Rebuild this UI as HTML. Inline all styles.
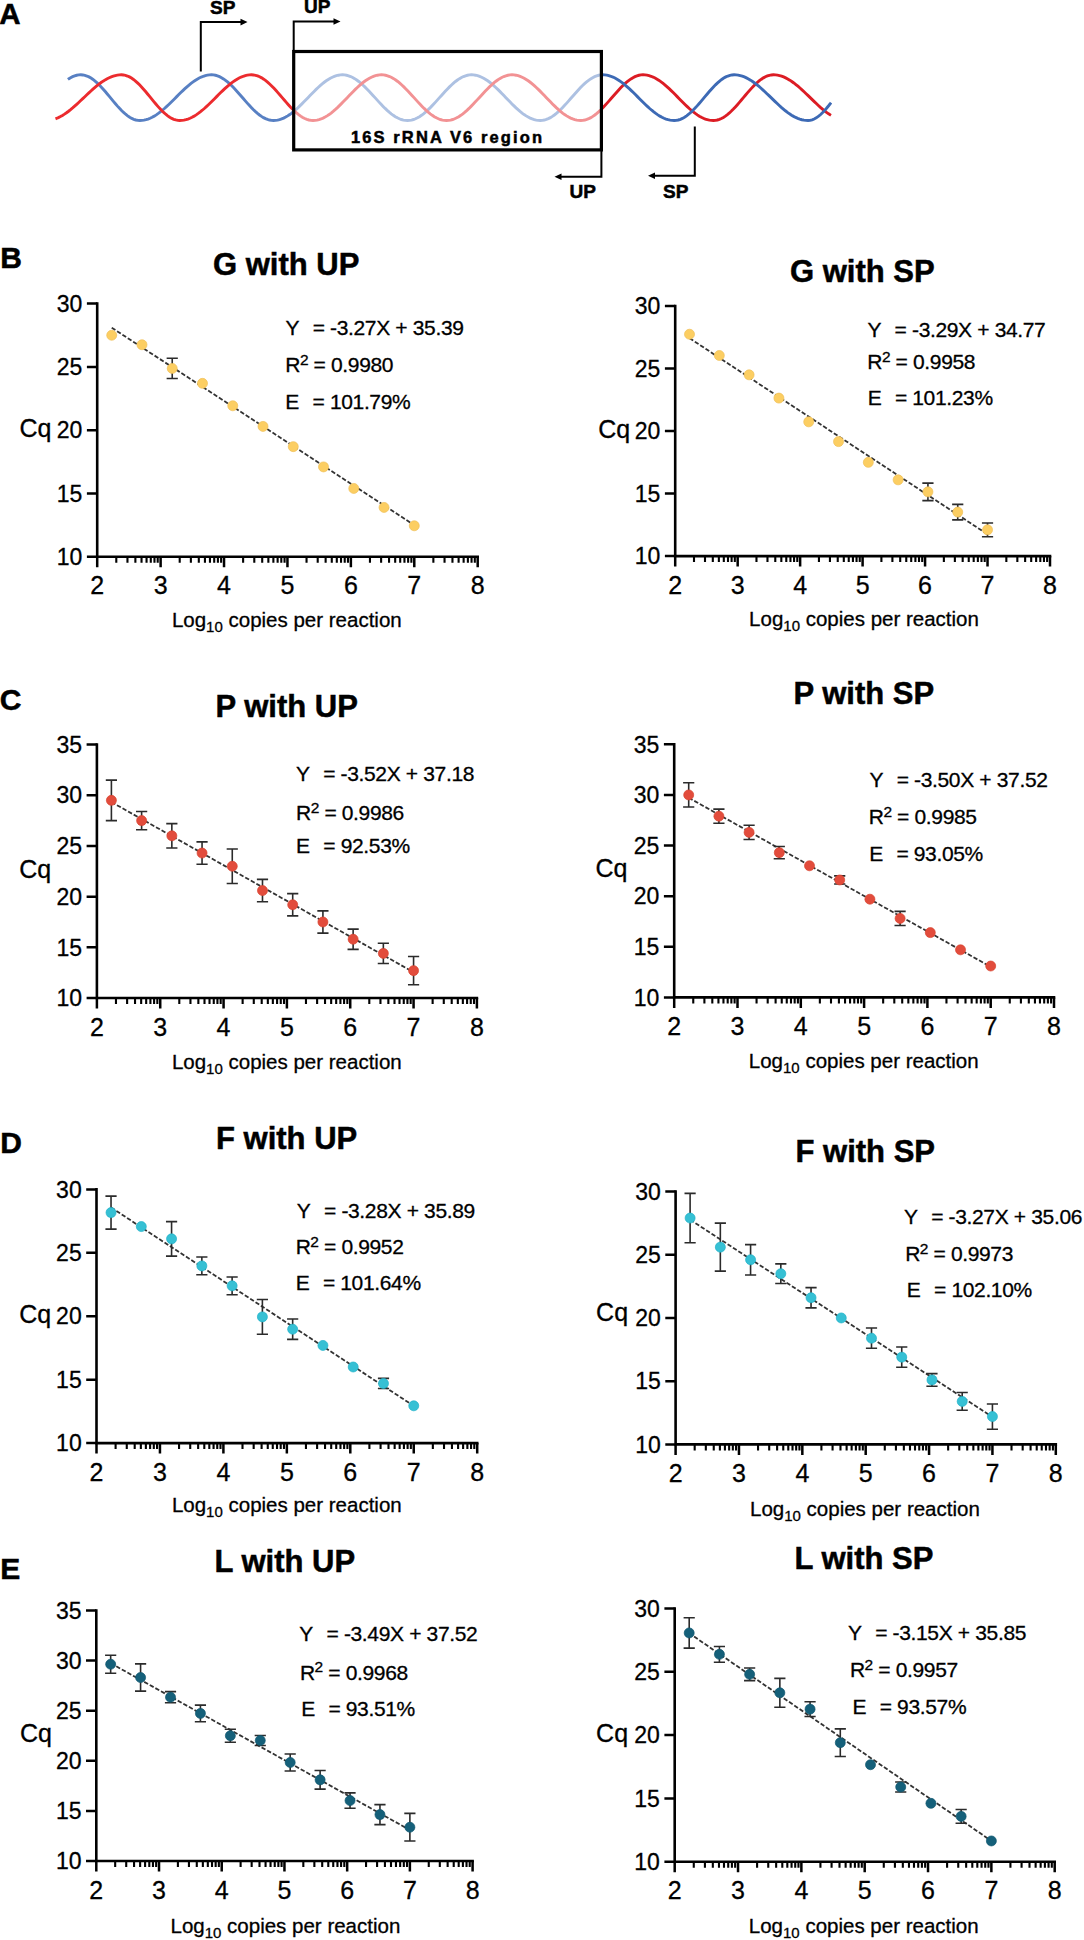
<!DOCTYPE html>
<html><head><meta charset="utf-8"><title>qPCR standard curves</title>
<style>html,body{margin:0;padding:0;background:#fff;}svg{display:block;}text{stroke:#000;stroke-width:0.3px;}text[font-weight=bold]{stroke-width:0.5px;}</style></head>
<body><svg width="1084" height="1940" viewBox="0 0 1084 1940" font-family="'Liberation Sans', sans-serif" fill="#000">
<rect width="1084" height="1940" fill="#fff"/>
<text x="-0.8" y="23.8" font-size="29.5" font-weight="bold">A</text>
<path d="M293.70,111.50 L293.79,111.42 L295.82,109.68 L297.85,107.84 L299.88,105.90 L301.91,103.90 L303.94,101.85 L305.97,99.76 L308.00,97.65 L310.03,95.54 L312.06,93.45 L314.09,91.40 L316.12,89.40 L318.15,87.46 L320.18,85.62 L322.21,83.88 L324.24,82.26 L326.26,80.76 L328.29,79.42 L330.32,78.22 L332.35,77.20 L334.38,76.34 L336.41,75.67 L338.44,75.19 L340.47,74.90 L342.50,74.80 L344.53,74.91 L346.56,75.24 L348.59,75.78 L350.62,76.54 L352.66,77.50 L354.69,78.65 L356.72,79.99 L358.75,81.49 L360.78,83.15 L362.81,84.96 L364.84,86.88 L366.88,88.91 L368.91,91.02 L370.94,93.19 L372.97,95.41 L375.00,97.65 L377.03,99.89 L379.06,102.11 L381.09,104.28 L383.12,106.39 L385.16,108.42 L387.19,110.34 L389.22,112.15 L391.25,113.81 L393.28,115.31 L395.31,116.65 L397.34,117.80 L399.38,118.76 L401.41,119.52 L403.44,120.06 L405.47,120.39 L407.50,120.50 L409.50,120.39 L411.50,120.06 L413.50,119.52 L415.50,118.76 L417.50,117.80 L419.50,116.65 L421.50,115.31 L423.50,113.81 L425.50,112.15 L427.50,110.34 L429.50,108.42 L431.50,106.39 L433.50,104.28 L435.50,102.11 L437.50,99.89 L439.50,97.65 L441.50,95.41 L443.50,93.19 L445.50,91.02 L447.50,88.91 L449.50,86.88 L451.50,84.96 L453.50,83.15 L455.50,81.49 L457.50,79.99 L459.50,78.65 L461.50,77.50 L463.50,76.54 L465.50,75.78 L467.50,75.24 L469.50,74.91 L471.50,74.80 L473.52,74.90 L475.55,75.19 L477.57,75.67 L479.59,76.34 L481.62,77.20 L483.64,78.22 L485.66,79.42 L487.69,80.76 L489.71,82.26 L491.74,83.88 L493.76,85.62 L495.78,87.46 L497.81,89.40 L499.83,91.40 L501.85,93.45 L503.88,95.54 L505.90,97.65 L507.92,99.76 L509.95,101.85 L511.97,103.90 L513.99,105.90 L516.02,107.84 L518.04,109.68 L520.06,111.42 L522.09,113.04 L524.11,114.54 L526.14,115.88 L528.16,117.08 L530.18,118.10 L532.21,118.96 L534.23,119.63 L536.25,120.11 L538.28,120.40 L540.30,120.50 L542.31,120.38 L544.33,120.03 L546.34,119.45 L548.35,118.65 L550.36,117.63 L552.38,116.40 L554.39,114.99 L556.40,113.39 L558.42,111.64 L560.43,109.74 L562.44,107.71 L564.45,105.59 L566.47,103.38 L568.48,101.11 L570.49,98.81 L572.51,96.49 L574.52,94.19 L576.53,91.92 L578.55,89.71 L580.56,87.59 L582.57,85.56 L584.58,83.66 L586.60,81.91 L588.61,80.31 L590.62,78.90 L592.64,77.67 L594.65,76.65 L596.66,75.85 L598.67,75.27 L600.69,74.92 L601.40,74.88" fill="none" stroke="#ADC1E2" stroke-width="2.9"/>
<path d="M293.70,110.28 L294.52,111.08 L296.57,112.94 L298.63,114.63 L300.68,116.14 L302.73,117.44 L304.79,118.52 L306.84,119.38 L308.89,120.00 L310.95,120.37 L313.00,120.50 L315.01,120.40 L317.03,120.11 L319.04,119.63 L321.06,118.96 L323.07,118.10 L325.09,117.08 L327.10,115.88 L329.12,114.54 L331.13,113.04 L333.15,111.42 L335.16,109.68 L337.18,107.84 L339.19,105.90 L341.21,103.90 L343.22,101.85 L345.24,99.76 L347.25,97.65 L349.26,95.54 L351.28,93.45 L353.29,91.40 L355.31,89.40 L357.32,87.46 L359.34,85.62 L361.35,83.88 L363.37,82.26 L365.38,80.76 L367.40,79.42 L369.41,78.22 L371.43,77.20 L373.44,76.34 L375.46,75.67 L377.47,75.19 L379.49,74.90 L381.50,74.80 L383.53,74.91 L385.56,75.24 L387.59,75.78 L389.62,76.54 L391.66,77.50 L393.69,78.65 L395.72,79.99 L397.75,81.49 L399.78,83.15 L401.81,84.96 L403.84,86.88 L405.88,88.91 L407.91,91.02 L409.94,93.19 L411.97,95.41 L414.00,97.65 L416.03,99.89 L418.06,102.11 L420.09,104.28 L422.12,106.39 L424.16,108.42 L426.19,110.34 L428.22,112.15 L430.25,113.81 L432.28,115.31 L434.31,116.65 L436.34,117.80 L438.38,118.76 L440.41,119.52 L442.44,120.06 L444.47,120.39 L446.50,120.50 L448.55,120.39 L450.59,120.06 L452.64,119.52 L454.69,118.76 L456.73,117.80 L458.78,116.65 L460.83,115.31 L462.88,113.81 L464.92,112.15 L466.97,110.34 L469.02,108.42 L471.06,106.39 L473.11,104.28 L475.16,102.11 L477.20,99.89 L479.25,97.65 L481.30,95.41 L483.34,93.19 L485.39,91.02 L487.44,88.91 L489.48,86.88 L491.53,84.96 L493.58,83.15 L495.62,81.49 L497.67,79.99 L499.72,78.65 L501.77,77.50 L503.81,76.54 L505.86,75.78 L507.91,75.24 L509.95,74.91 L512.00,74.80 L514.02,74.90 L516.05,75.19 L518.07,75.67 L520.09,76.34 L522.12,77.20 L524.14,78.22 L526.16,79.42 L528.19,80.76 L530.21,82.26 L532.24,83.88 L534.26,85.62 L536.28,87.46 L538.31,89.40 L540.33,91.40 L542.35,93.45 L544.38,95.54 L546.40,97.65 L548.42,99.76 L550.45,101.85 L552.47,103.90 L554.49,105.90 L556.52,107.84 L558.54,109.68 L560.56,111.42 L562.59,113.04 L564.61,114.54 L566.64,115.88 L568.66,117.08 L570.68,118.10 L572.71,118.96 L574.73,119.63 L576.75,120.11 L578.78,120.40 L580.80,120.50 L582.81,120.38 L584.81,120.03 L586.82,119.45 L588.83,118.65 L590.83,117.63 L592.84,116.40 L594.85,114.99 L596.85,113.39 L598.86,111.64 L600.86,109.74 L601.40,109.20" fill="none" stroke="#F29294" stroke-width="2.9"/>
<path d="M67.90,79.32 L68.51,78.90 L70.56,77.67 L72.61,76.65 L74.65,75.85 L76.70,75.27 L78.75,74.92 L80.80,74.80 L82.84,74.93 L84.88,75.33 L86.91,76.00 L88.95,76.91 L90.99,78.07 L93.03,79.46 L95.07,81.06 L97.10,82.86 L99.14,84.83 L101.18,86.95 L103.22,89.19 L105.26,91.54 L107.29,93.95 L109.33,96.41 L111.37,98.89 L113.41,101.35 L115.44,103.76 L117.48,106.11 L119.52,108.35 L121.56,110.47 L123.60,112.44 L125.63,114.24 L127.67,115.84 L129.71,117.23 L131.75,118.39 L133.79,119.30 L135.82,119.97 L137.86,120.37 L139.90,120.50 L141.95,120.41 L143.99,120.13 L146.04,119.68 L148.08,119.04 L150.13,118.24 L152.17,117.27 L154.22,116.14 L156.27,114.86 L158.31,113.44 L160.36,111.90 L162.40,110.24 L164.45,108.48 L166.49,106.63 L168.54,104.71 L170.59,102.73 L172.63,100.72 L174.68,98.68 L176.72,96.62 L178.77,94.58 L180.81,92.57 L182.86,90.59 L184.91,88.67 L186.95,86.82 L189.00,85.06 L191.04,83.40 L193.09,81.86 L195.13,80.44 L197.18,79.16 L199.23,78.03 L201.27,77.06 L203.32,76.26 L205.36,75.62 L207.41,75.17 L209.45,74.89 L211.50,74.80 L213.50,74.92 L215.50,75.27 L217.50,75.85 L219.50,76.65 L221.50,77.67 L223.50,78.90 L225.50,80.31 L227.50,81.91 L229.50,83.66 L231.50,85.56 L233.50,87.59 L235.50,89.71 L237.50,91.92 L239.50,94.19 L241.50,96.49 L243.50,98.81 L245.50,101.11 L247.50,103.38 L249.50,105.59 L251.50,107.71 L253.50,109.74 L255.50,111.64 L257.50,113.39 L259.50,114.99 L261.50,116.40 L263.50,117.63 L265.50,118.65 L267.50,119.45 L269.50,120.03 L271.50,120.38 L273.50,120.50 L275.53,120.40 L277.56,120.11 L279.59,119.63 L281.62,118.96 L283.65,118.10 L285.68,117.08 L287.71,115.88 L289.74,114.54 L291.76,113.04 L293.70,111.50" fill="none" stroke="#5880C3" stroke-width="2.9"/>
<path d="M55.50,118.78 L56.36,118.47 L58.39,117.60 L60.43,116.58 L62.46,115.43 L64.49,114.15 L66.52,112.75 L68.56,111.24 L70.59,109.63 L72.62,107.94 L74.65,106.17 L76.69,104.34 L78.72,102.46 L80.75,100.55 L82.78,98.62 L84.82,96.68 L86.85,94.75 L88.88,92.84 L90.91,90.96 L92.95,89.13 L94.98,87.36 L97.01,85.67 L99.04,84.06 L101.08,82.55 L103.11,81.15 L105.14,79.87 L107.17,78.72 L109.21,77.70 L111.24,76.83 L113.27,76.11 L115.30,75.54 L117.34,75.13 L119.37,74.88 L121.40,74.80 L123.41,74.93 L125.43,75.33 L127.44,76.00 L129.46,76.91 L131.47,78.07 L133.48,79.46 L135.50,81.06 L137.51,82.86 L139.52,84.83 L141.54,86.95 L143.55,89.19 L145.57,91.54 L147.58,93.95 L149.59,96.41 L151.61,98.89 L153.62,101.35 L155.63,103.76 L157.65,106.11 L159.66,108.35 L161.68,110.47 L163.69,112.44 L165.70,114.24 L167.72,115.84 L169.73,117.23 L171.74,118.39 L173.76,119.30 L175.77,119.97 L177.79,120.37 L179.80,120.50 L181.85,120.41 L183.89,120.13 L185.94,119.68 L187.98,119.04 L190.03,118.24 L192.07,117.27 L194.12,116.14 L196.17,114.86 L198.21,113.44 L200.26,111.90 L202.30,110.24 L204.35,108.48 L206.39,106.63 L208.44,104.71 L210.49,102.73 L212.53,100.72 L214.58,98.68 L216.62,96.62 L218.67,94.58 L220.71,92.57 L222.76,90.59 L224.81,88.67 L226.85,86.82 L228.90,85.06 L230.94,83.40 L232.99,81.86 L235.03,80.44 L237.08,79.16 L239.13,78.03 L241.17,77.06 L243.22,76.26 L245.26,75.62 L247.31,75.17 L249.35,74.89 L251.40,74.80 L253.45,74.93 L255.51,75.30 L257.56,75.92 L259.61,76.78 L261.67,77.86 L263.72,79.16 L265.77,80.67 L267.83,82.36 L269.88,84.22 L271.93,86.22 L273.99,88.36 L276.04,90.59 L278.09,92.90 L280.15,95.26 L282.20,97.65 L284.25,100.04 L286.31,102.40 L288.36,104.71 L290.41,106.94 L292.47,109.07 L293.70,110.28" fill="none" stroke="#EC2B2E" stroke-width="2.9"/>
<path d="M601.40,109.20 L602.87,107.71 L604.88,105.59 L606.88,103.38 L608.89,101.11 L610.90,98.81 L612.90,96.49 L614.91,94.19 L616.92,91.92 L618.92,89.71 L620.93,87.59 L622.94,85.56 L624.94,83.66 L626.95,81.91 L628.95,80.31 L630.96,78.90 L632.97,77.67 L634.97,76.65 L636.98,75.85 L638.99,75.27 L640.99,74.92 L643.00,74.80 L645.01,74.89 L647.02,75.17 L649.03,75.62 L651.05,76.26 L653.06,77.06 L655.07,78.03 L657.08,79.16 L659.09,80.44 L661.10,81.86 L663.11,83.40 L665.13,85.06 L667.14,86.82 L669.15,88.67 L671.16,90.59 L673.17,92.57 L675.18,94.58 L677.19,96.62 L679.21,98.68 L681.22,100.72 L683.23,102.73 L685.24,104.71 L687.25,106.63 L689.26,108.48 L691.27,110.24 L693.29,111.90 L695.30,113.44 L697.31,114.86 L699.32,116.14 L701.33,117.27 L703.34,118.24 L705.35,119.04 L707.37,119.68 L709.38,120.13 L711.39,120.41 L713.40,120.50 L715.40,120.37 L717.40,120.00 L719.40,119.38 L721.40,118.52 L723.40,117.44 L725.40,116.14 L727.40,114.63 L729.40,112.94 L731.40,111.08 L733.40,109.08 L735.40,106.94 L737.40,104.71 L739.40,102.40 L741.40,100.04 L743.40,97.65 L745.40,95.26 L747.40,92.90 L749.40,90.59 L751.40,88.36 L753.40,86.22 L755.40,84.22 L757.40,82.36 L759.40,80.67 L761.40,79.16 L763.40,77.86 L765.40,76.78 L767.40,75.92 L769.40,75.30 L771.40,74.93 L773.40,74.80 L775.44,74.89 L777.49,75.15 L779.53,75.58 L781.58,76.18 L783.62,76.94 L785.67,77.86 L787.71,78.93 L789.76,80.15 L791.80,81.49 L793.84,82.96 L795.89,84.54 L797.93,86.22 L799.98,87.99 L802.02,89.83 L804.07,91.74 L806.11,93.68 L808.16,95.66 L810.20,97.65 L812.24,99.64 L814.29,101.62 L816.33,103.56 L818.38,105.47 L820.42,107.31 L822.47,109.07 L824.51,110.76 L826.56,112.34 L828.60,113.81 L830.64,115.15 L831.00,115.37" fill="none" stroke="#DC1C24" stroke-width="2.9"/>
<path d="M601.40,74.88 L602.70,74.80 L604.74,74.89 L606.79,75.17 L608.83,75.62 L610.87,76.26 L612.91,77.06 L614.96,78.03 L617.00,79.16 L619.04,80.44 L621.09,81.86 L623.13,83.40 L625.17,85.06 L627.21,86.82 L629.26,88.67 L631.30,90.59 L633.34,92.57 L635.39,94.58 L637.43,96.62 L639.47,98.68 L641.51,100.72 L643.56,102.73 L645.60,104.71 L647.64,106.63 L649.69,108.48 L651.73,110.24 L653.77,111.90 L655.81,113.44 L657.86,114.86 L659.90,116.14 L661.94,117.27 L663.99,118.24 L666.03,119.04 L668.07,119.68 L670.11,120.13 L672.16,120.41 L674.20,120.50 L676.27,120.37 L678.33,119.97 L680.40,119.30 L682.46,118.39 L684.53,117.23 L686.59,115.84 L688.66,114.24 L690.72,112.44 L692.79,110.47 L694.86,108.35 L696.92,106.11 L698.99,103.76 L701.05,101.35 L703.12,98.89 L705.18,96.41 L707.25,93.95 L709.31,91.54 L711.38,89.19 L713.44,86.95 L715.51,84.83 L717.58,82.86 L719.64,81.06 L721.71,79.46 L723.77,78.07 L725.84,76.91 L727.90,76.00 L729.97,75.33 L732.03,74.93 L734.10,74.80 L736.15,74.89 L738.21,75.15 L740.26,75.58 L742.31,76.18 L744.36,76.94 L746.42,77.86 L748.47,78.93 L750.52,80.15 L752.58,81.49 L754.63,82.96 L756.68,84.54 L758.73,86.22 L760.79,87.99 L762.84,89.83 L764.89,91.74 L766.94,93.68 L769.00,95.66 L771.05,97.65 L773.10,99.64 L775.16,101.62 L777.21,103.56 L779.26,105.47 L781.31,107.31 L783.37,109.07 L785.42,110.76 L787.47,112.34 L789.52,113.81 L791.58,115.15 L793.63,116.37 L795.68,117.44 L797.74,118.36 L799.79,119.12 L801.84,119.72 L803.89,120.15 L805.95,120.41 L808.00,120.50 L810.06,120.33 L812.12,119.84 L814.18,119.02 L816.25,117.88 L818.31,116.46 L820.37,114.75 L822.43,112.80 L824.49,110.63 L826.55,108.27 L828.62,105.75 L830.68,103.12 L831.00,102.69" fill="none" stroke="#3D6AB5" stroke-width="2.9"/>
<rect x="293.7" y="51.5" width="307.7" height="98.4" fill="none" stroke="#000" stroke-width="3.2"/>
<text x="351" y="143.3" font-size="16.5" font-weight="bold" letter-spacing="2.1">16S rRNA V6 region</text>
<polyline points="200.8,71.4 200.8,22.1 242,22.1" fill="none" stroke="#000" stroke-width="2"/><polygon points="247.5,22.1 240.5,18.8 240.5,25.400000000000002" fill="#000"/>
<polyline points="293.7,51 293.7,21.5 335,21.5" fill="none" stroke="#000" stroke-width="2"/><polygon points="340.5,21.5 333.5,18.2 333.5,24.8" fill="#000"/>
<polyline points="601.4,150 601.4,176.8 560,176.8" fill="none" stroke="#000" stroke-width="2"/><polygon points="554.5,176.8 561.5,173.5 561.5,180.10000000000002" fill="#000"/>
<polyline points="694.8,126.6 694.8,175.8 654,175.8" fill="none" stroke="#000" stroke-width="2"/><polygon points="648,175.8 655,172.5 655,179.10000000000002" fill="#000"/>
<text x="210" y="14.3" font-size="19" font-weight="bold">SP</text>
<text x="304" y="13.3" font-size="19" font-weight="bold">UP</text>
<text x="569.5" y="197.7" font-size="19" font-weight="bold">UP</text>
<text x="663" y="197.7" font-size="19" font-weight="bold">SP</text>
<text x="0.3" y="267.7" font-size="30" font-weight="bold">B</text>
<text x="-0.2" y="709.6" font-size="30" font-weight="bold">C</text>
<text x="0.3" y="1153.4" font-size="30" font-weight="bold">D</text>
<text x="0.3" y="1578.8" font-size="30" font-weight="bold">E</text>
<path d="M97.20,303.60 L97.20,556.80 L477.70,556.80" fill="none" stroke="#000" stroke-width="2.6" stroke-linecap="square"/>
<path d="M86.90,556.80 H97.20 M86.90,493.50 H97.20 M86.90,430.20 H97.20 M86.90,366.90 H97.20 M86.90,303.60 H97.20 M97.20,556.80 V567.30 M160.62,556.80 V567.30 M224.03,556.80 V567.30 M287.45,556.80 V567.30 M350.87,556.80 V567.30 M414.28,556.80 V567.30 M477.70,556.80 V567.30" stroke="#000" stroke-width="2.5"/>
<path d="M116.29,556.80 V562.80 M127.46,556.80 V562.80 M135.38,556.80 V562.80 M141.53,556.80 V562.80 M146.55,556.80 V562.80 M150.79,556.80 V562.80 M154.47,556.80 V562.80 M157.71,556.80 V562.80 M179.71,556.80 V562.80 M190.87,556.80 V562.80 M198.80,556.80 V562.80 M204.94,556.80 V562.80 M209.96,556.80 V562.80 M214.21,556.80 V562.80 M217.89,556.80 V562.80 M221.13,556.80 V562.80 M243.12,556.80 V562.80 M254.29,556.80 V562.80 M262.21,556.80 V562.80 M268.36,556.80 V562.80 M273.38,556.80 V562.80 M277.63,556.80 V562.80 M281.30,556.80 V562.80 M284.55,556.80 V562.80 M306.54,556.80 V562.80 M317.71,556.80 V562.80 M325.63,556.80 V562.80 M331.78,556.80 V562.80 M336.80,556.80 V562.80 M341.04,556.80 V562.80 M344.72,556.80 V562.80 M347.96,556.80 V562.80 M369.96,556.80 V562.80 M381.12,556.80 V562.80 M389.05,556.80 V562.80 M395.19,556.80 V562.80 M400.21,556.80 V562.80 M404.46,556.80 V562.80 M408.14,556.80 V562.80 M411.38,556.80 V562.80 M433.37,556.80 V562.80 M444.54,556.80 V562.80 M452.46,556.80 V562.80 M458.61,556.80 V562.80 M463.63,556.80 V562.80 M467.88,556.80 V562.80 M471.55,556.80 V562.80 M474.80,556.80 V562.80" stroke="#000" stroke-width="2.1"/>
<text x="82.40" y="565.00" font-size="23" text-anchor="end">10</text>
<text x="82.40" y="501.70" font-size="23" text-anchor="end">15</text>
<text x="82.40" y="438.40" font-size="23" text-anchor="end">20</text>
<text x="82.40" y="375.10" font-size="23" text-anchor="end">25</text>
<text x="82.40" y="311.80" font-size="23" text-anchor="end">30</text>
<text x="97.20" y="594.30" font-size="25" text-anchor="middle">2</text>
<text x="160.62" y="594.30" font-size="25" text-anchor="middle">3</text>
<text x="224.03" y="594.30" font-size="25" text-anchor="middle">4</text>
<text x="287.45" y="594.30" font-size="25" text-anchor="middle">5</text>
<text x="350.87" y="594.30" font-size="25" text-anchor="middle">6</text>
<text x="414.28" y="594.30" font-size="25" text-anchor="middle">7</text>
<text x="477.70" y="594.30" font-size="25" text-anchor="middle">8</text>
<text x="19.40" y="437.10" font-size="25">Cq</text>
<text x="171.90" y="627.40" font-size="20.5">Log<tspan font-size="15" dy="5">10</tspan><tspan dy="-5"> copies per reaction</tspan></text>
<text x="213.00" y="274.50" font-size="31" font-weight="bold">G with UP</text>
<text x="285.50" y="335.00" font-size="21" letter-spacing="-0.35">Y</text>
<text x="312.70" y="335.00" font-size="21" letter-spacing="-0.35">= -3.27X + 35.39</text>
<text x="285.30" y="372.30" font-size="21" letter-spacing="-0.35">R</text>
<text x="299.90" y="365.10" font-size="15.5">2</text>
<text x="313.60" y="372.30" font-size="21" letter-spacing="-0.35">= 0.9980</text>
<text x="285.30" y="409.00" font-size="21" letter-spacing="-0.35">E</text>
<text x="312.50" y="409.00" font-size="21" letter-spacing="-0.35">= 101.79%</text>
<line x1="111.72" y1="327.64" x2="414.28" y2="525.15" stroke="#333" stroke-width="1.8" stroke-dasharray="4.4 2.0"/>
<path d="M172.23,358.29 V378.55 M166.63,358.29 H177.83 M166.63,378.55 H177.83" stroke="#2b2b2b" stroke-width="1.6" fill="none"/>
<circle cx="111.72" cy="335.25" r="5.0" fill="#FCCE62" stroke="#EFC05A" stroke-width="0.7"/>
<circle cx="141.98" cy="344.75" r="5.0" fill="#FCCE62" stroke="#EFC05A" stroke-width="0.7"/>
<circle cx="172.23" cy="368.42" r="5.0" fill="#FCCE62" stroke="#EFC05A" stroke-width="0.7"/>
<circle cx="202.49" cy="383.36" r="5.0" fill="#FCCE62" stroke="#EFC05A" stroke-width="0.7"/>
<circle cx="232.75" cy="405.77" r="5.0" fill="#FCCE62" stroke="#EFC05A" stroke-width="0.7"/>
<circle cx="263.00" cy="426.40" r="5.0" fill="#FCCE62" stroke="#EFC05A" stroke-width="0.7"/>
<circle cx="293.26" cy="446.66" r="5.0" fill="#FCCE62" stroke="#EFC05A" stroke-width="0.7"/>
<circle cx="323.52" cy="466.91" r="5.0" fill="#FCCE62" stroke="#EFC05A" stroke-width="0.7"/>
<circle cx="353.77" cy="488.44" r="5.0" fill="#FCCE62" stroke="#EFC05A" stroke-width="0.7"/>
<circle cx="384.03" cy="507.43" r="5.0" fill="#FCCE62" stroke="#EFC05A" stroke-width="0.7"/>
<circle cx="414.28" cy="525.78" r="5.0" fill="#FCCE62" stroke="#EFC05A" stroke-width="0.7"/>
<path d="M675.20,306.10 L675.20,556.10 L1050.00,556.10" fill="none" stroke="#000" stroke-width="2.6" stroke-linecap="square"/>
<path d="M664.90,556.10 H675.20 M664.90,493.60 H675.20 M664.90,431.10 H675.20 M664.90,368.60 H675.20 M664.90,306.10 H675.20 M675.20,556.10 V566.60 M737.67,556.10 V566.60 M800.13,556.10 V566.60 M862.60,556.10 V566.60 M925.07,556.10 V566.60 M987.53,556.10 V566.60 M1050.00,556.10 V566.60" stroke="#000" stroke-width="2.5"/>
<path d="M694.00,556.10 V562.10 M705.00,556.10 V562.10 M712.81,556.10 V562.10 M718.86,556.10 V562.10 M723.81,556.10 V562.10 M727.99,556.10 V562.10 M731.61,556.10 V562.10 M734.81,556.10 V562.10 M756.47,556.10 V562.10 M767.47,556.10 V562.10 M775.28,556.10 V562.10 M781.33,556.10 V562.10 M786.28,556.10 V562.10 M790.46,556.10 V562.10 M794.08,556.10 V562.10 M797.28,556.10 V562.10 M818.94,556.10 V562.10 M829.94,556.10 V562.10 M837.74,556.10 V562.10 M843.80,556.10 V562.10 M848.74,556.10 V562.10 M852.92,556.10 V562.10 M856.55,556.10 V562.10 M859.74,556.10 V562.10 M881.40,556.10 V562.10 M892.40,556.10 V562.10 M900.21,556.10 V562.10 M906.26,556.10 V562.10 M911.21,556.10 V562.10 M915.39,556.10 V562.10 M919.01,556.10 V562.10 M922.21,556.10 V562.10 M943.87,556.10 V562.10 M954.87,556.10 V562.10 M962.68,556.10 V562.10 M968.73,556.10 V562.10 M973.68,556.10 V562.10 M977.86,556.10 V562.10 M981.48,556.10 V562.10 M984.68,556.10 V562.10 M1006.34,556.10 V562.10 M1017.34,556.10 V562.10 M1025.14,556.10 V562.10 M1031.20,556.10 V562.10 M1036.14,556.10 V562.10 M1040.32,556.10 V562.10 M1043.95,556.10 V562.10 M1047.14,556.10 V562.10" stroke="#000" stroke-width="2.1"/>
<text x="660.40" y="564.30" font-size="23" text-anchor="end">10</text>
<text x="660.40" y="501.80" font-size="23" text-anchor="end">15</text>
<text x="660.40" y="439.30" font-size="23" text-anchor="end">20</text>
<text x="660.40" y="376.80" font-size="23" text-anchor="end">25</text>
<text x="660.40" y="314.30" font-size="23" text-anchor="end">30</text>
<text x="675.20" y="593.60" font-size="25" text-anchor="middle">2</text>
<text x="737.67" y="593.60" font-size="25" text-anchor="middle">3</text>
<text x="800.13" y="593.60" font-size="25" text-anchor="middle">4</text>
<text x="862.60" y="593.60" font-size="25" text-anchor="middle">5</text>
<text x="925.07" y="593.60" font-size="25" text-anchor="middle">6</text>
<text x="987.53" y="593.60" font-size="25" text-anchor="middle">7</text>
<text x="1050.00" y="593.60" font-size="25" text-anchor="middle">8</text>
<text x="598.30" y="437.60" font-size="25">Cq</text>
<text x="749.10" y="626.40" font-size="20.5">Log<tspan font-size="15" dy="5">10</tspan><tspan dy="-5"> copies per reaction</tspan></text>
<text x="790.00" y="281.60" font-size="31" font-weight="bold">G with SP</text>
<text x="867.40" y="337.10" font-size="21" letter-spacing="-0.35">Y</text>
<text x="894.60" y="337.10" font-size="21" letter-spacing="-0.35">= -3.29X + 34.77</text>
<text x="867.30" y="368.80" font-size="21" letter-spacing="-0.35">R</text>
<text x="881.90" y="361.60" font-size="15.5">2</text>
<text x="895.60" y="368.80" font-size="21" letter-spacing="-0.35">= 0.9958</text>
<text x="867.70" y="405.10" font-size="21" letter-spacing="-0.35">E</text>
<text x="894.90" y="405.10" font-size="21" letter-spacing="-0.35">= 101.23%</text>
<line x1="689.50" y1="338.14" x2="987.53" y2="534.35" stroke="#333" stroke-width="1.8" stroke-dasharray="4.4 2.0"/>
<path d="M927.93,483.10 V500.60 M922.33,483.10 H933.53 M922.33,500.60 H933.53 M957.73,504.35 V519.85 M952.13,504.35 H963.33 M952.13,519.85 H963.33 M987.53,522.98 V536.73 M981.93,522.98 H993.13 M981.93,536.73 H993.13" stroke="#2b2b2b" stroke-width="1.6" fill="none"/>
<circle cx="689.50" cy="334.23" r="5.0" fill="#FCCE62" stroke="#EFC05A" stroke-width="0.7"/>
<circle cx="719.31" cy="355.48" r="5.0" fill="#FCCE62" stroke="#EFC05A" stroke-width="0.7"/>
<circle cx="749.11" cy="374.85" r="5.0" fill="#FCCE62" stroke="#EFC05A" stroke-width="0.7"/>
<circle cx="778.91" cy="398.10" r="5.0" fill="#FCCE62" stroke="#EFC05A" stroke-width="0.7"/>
<circle cx="808.72" cy="421.85" r="5.0" fill="#FCCE62" stroke="#EFC05A" stroke-width="0.7"/>
<circle cx="838.52" cy="441.60" r="5.0" fill="#FCCE62" stroke="#EFC05A" stroke-width="0.7"/>
<circle cx="868.32" cy="462.35" r="5.0" fill="#FCCE62" stroke="#EFC05A" stroke-width="0.7"/>
<circle cx="898.12" cy="479.85" r="5.0" fill="#FCCE62" stroke="#EFC05A" stroke-width="0.7"/>
<circle cx="927.93" cy="491.85" r="5.0" fill="#FCCE62" stroke="#EFC05A" stroke-width="0.7"/>
<circle cx="957.73" cy="512.10" r="5.0" fill="#FCCE62" stroke="#EFC05A" stroke-width="0.7"/>
<circle cx="987.53" cy="529.85" r="5.0" fill="#FCCE62" stroke="#EFC05A" stroke-width="0.7"/>
<path d="M96.90,744.60 L96.90,998.00 L476.90,998.00" fill="none" stroke="#000" stroke-width="2.6" stroke-linecap="square"/>
<path d="M86.60,998.00 H96.90 M86.60,947.32 H96.90 M86.60,896.64 H96.90 M86.60,845.96 H96.90 M86.60,795.28 H96.90 M86.60,744.60 H96.90 M96.90,998.00 V1008.50 M160.23,998.00 V1008.50 M223.57,998.00 V1008.50 M286.90,998.00 V1008.50 M350.23,998.00 V1008.50 M413.57,998.00 V1008.50 M476.90,998.00 V1008.50" stroke="#000" stroke-width="2.5"/>
<path d="M115.97,998.00 V1004.00 M127.12,998.00 V1004.00 M135.03,998.00 V1004.00 M141.17,998.00 V1004.00 M146.18,998.00 V1004.00 M150.42,998.00 V1004.00 M154.10,998.00 V1004.00 M157.34,998.00 V1004.00 M179.30,998.00 V1004.00 M190.45,998.00 V1004.00 M198.36,998.00 V1004.00 M204.50,998.00 V1004.00 M209.52,998.00 V1004.00 M213.76,998.00 V1004.00 M217.43,998.00 V1004.00 M220.67,998.00 V1004.00 M242.63,998.00 V1004.00 M253.78,998.00 V1004.00 M261.70,998.00 V1004.00 M267.83,998.00 V1004.00 M272.85,998.00 V1004.00 M277.09,998.00 V1004.00 M280.76,998.00 V1004.00 M284.00,998.00 V1004.00 M305.97,998.00 V1004.00 M317.12,998.00 V1004.00 M325.03,998.00 V1004.00 M331.17,998.00 V1004.00 M336.18,998.00 V1004.00 M340.42,998.00 V1004.00 M344.10,998.00 V1004.00 M347.34,998.00 V1004.00 M369.30,998.00 V1004.00 M380.45,998.00 V1004.00 M388.36,998.00 V1004.00 M394.50,998.00 V1004.00 M399.52,998.00 V1004.00 M403.76,998.00 V1004.00 M407.43,998.00 V1004.00 M410.67,998.00 V1004.00 M432.63,998.00 V1004.00 M443.78,998.00 V1004.00 M451.70,998.00 V1004.00 M457.83,998.00 V1004.00 M462.85,998.00 V1004.00 M467.09,998.00 V1004.00 M470.76,998.00 V1004.00 M474.00,998.00 V1004.00" stroke="#000" stroke-width="2.1"/>
<text x="82.10" y="1006.20" font-size="23" text-anchor="end">10</text>
<text x="82.10" y="955.52" font-size="23" text-anchor="end">15</text>
<text x="82.10" y="904.84" font-size="23" text-anchor="end">20</text>
<text x="82.10" y="854.16" font-size="23" text-anchor="end">25</text>
<text x="82.10" y="803.48" font-size="23" text-anchor="end">30</text>
<text x="82.10" y="752.80" font-size="23" text-anchor="end">35</text>
<text x="96.90" y="1035.50" font-size="25" text-anchor="middle">2</text>
<text x="160.23" y="1035.50" font-size="25" text-anchor="middle">3</text>
<text x="223.57" y="1035.50" font-size="25" text-anchor="middle">4</text>
<text x="286.90" y="1035.50" font-size="25" text-anchor="middle">5</text>
<text x="350.23" y="1035.50" font-size="25" text-anchor="middle">6</text>
<text x="413.57" y="1035.50" font-size="25" text-anchor="middle">7</text>
<text x="476.90" y="1035.50" font-size="25" text-anchor="middle">8</text>
<text x="19.30" y="878.10" font-size="25">Cq</text>
<text x="171.90" y="1069.40" font-size="20.5">Log<tspan font-size="15" dy="5">10</tspan><tspan dy="-5"> copies per reaction</tspan></text>
<text x="215.50" y="716.50" font-size="31" font-weight="bold">P with UP</text>
<text x="296.00" y="780.60" font-size="21" letter-spacing="-0.35">Y</text>
<text x="323.20" y="780.60" font-size="21" letter-spacing="-0.35">= -3.52X + 37.18</text>
<text x="296.10" y="820.20" font-size="21" letter-spacing="-0.35">R</text>
<text x="310.70" y="813.00" font-size="15.5">2</text>
<text x="324.40" y="820.20" font-size="21" letter-spacing="-0.35">= 0.9986</text>
<text x="296.10" y="853.00" font-size="21" letter-spacing="-0.35">E</text>
<text x="323.30" y="853.00" font-size="21" letter-spacing="-0.35">= 92.53%</text>
<line x1="111.40" y1="802.03" x2="413.57" y2="972.25" stroke="#333" stroke-width="1.8" stroke-dasharray="4.4 2.0"/>
<path d="M111.40,780.08 V820.62 M105.80,780.08 H117.00 M105.80,820.62 H117.00 M141.62,811.50 V829.74 M136.02,811.50 H147.22 M136.02,829.74 H147.22 M171.84,823.66 V847.99 M166.24,823.66 H177.44 M166.24,847.99 H177.44 M202.05,841.91 V864.20 M196.45,841.91 H207.65 M196.45,864.20 H207.65 M232.27,849.00 V883.46 M226.67,849.00 H237.87 M226.67,883.46 H237.87 M262.49,879.41 V901.71 M256.88,879.41 H268.09 M256.88,901.71 H268.09 M292.70,893.60 V915.90 M287.10,893.60 H298.30 M287.10,915.90 H298.30 M322.92,910.83 V933.13 M317.32,910.83 H328.52 M317.32,933.13 H328.52 M353.13,929.08 V949.35 M347.53,929.08 H358.73 M347.53,949.35 H358.73 M383.35,943.27 V963.54 M377.75,943.27 H388.95 M377.75,963.54 H388.95 M413.57,956.44 V984.82 M407.97,956.44 H419.17 M407.97,984.82 H419.17" stroke="#2b2b2b" stroke-width="1.6" fill="none"/>
<circle cx="111.40" cy="800.35" r="5.0" fill="#E24C3C" stroke="#D8432F" stroke-width="0.7"/>
<circle cx="141.62" cy="820.62" r="5.0" fill="#E24C3C" stroke="#D8432F" stroke-width="0.7"/>
<circle cx="171.84" cy="835.82" r="5.0" fill="#E24C3C" stroke="#D8432F" stroke-width="0.7"/>
<circle cx="202.05" cy="853.06" r="5.0" fill="#E24C3C" stroke="#D8432F" stroke-width="0.7"/>
<circle cx="232.27" cy="866.23" r="5.0" fill="#E24C3C" stroke="#D8432F" stroke-width="0.7"/>
<circle cx="262.49" cy="890.56" r="5.0" fill="#E24C3C" stroke="#D8432F" stroke-width="0.7"/>
<circle cx="292.70" cy="904.75" r="5.0" fill="#E24C3C" stroke="#D8432F" stroke-width="0.7"/>
<circle cx="322.92" cy="921.98" r="5.0" fill="#E24C3C" stroke="#D8432F" stroke-width="0.7"/>
<circle cx="353.13" cy="939.21" r="5.0" fill="#E24C3C" stroke="#D8432F" stroke-width="0.7"/>
<circle cx="383.35" cy="953.40" r="5.0" fill="#E24C3C" stroke="#D8432F" stroke-width="0.7"/>
<circle cx="413.57" cy="970.63" r="5.0" fill="#E24C3C" stroke="#D8432F" stroke-width="0.7"/>
<path d="M674.20,744.30 L674.20,997.40 L1054.00,997.40" fill="none" stroke="#000" stroke-width="2.6" stroke-linecap="square"/>
<path d="M663.90,997.40 H674.20 M663.90,946.78 H674.20 M663.90,896.16 H674.20 M663.90,845.54 H674.20 M663.90,794.92 H674.20 M663.90,744.30 H674.20 M674.20,997.40 V1007.90 M737.50,997.40 V1007.90 M800.80,997.40 V1007.90 M864.10,997.40 V1007.90 M927.40,997.40 V1007.90 M990.70,997.40 V1007.90 M1054.00,997.40 V1007.90" stroke="#000" stroke-width="2.5"/>
<path d="M693.26,997.40 V1003.40 M704.40,997.40 V1003.40 M712.31,997.40 V1003.40 M718.44,997.40 V1003.40 M723.46,997.40 V1003.40 M727.69,997.40 V1003.40 M731.37,997.40 V1003.40 M734.60,997.40 V1003.40 M756.56,997.40 V1003.40 M767.70,997.40 V1003.40 M775.61,997.40 V1003.40 M781.74,997.40 V1003.40 M786.76,997.40 V1003.40 M790.99,997.40 V1003.40 M794.67,997.40 V1003.40 M797.90,997.40 V1003.40 M819.86,997.40 V1003.40 M831.00,997.40 V1003.40 M838.91,997.40 V1003.40 M845.04,997.40 V1003.40 M850.06,997.40 V1003.40 M854.29,997.40 V1003.40 M857.97,997.40 V1003.40 M861.20,997.40 V1003.40 M883.16,997.40 V1003.40 M894.30,997.40 V1003.40 M902.21,997.40 V1003.40 M908.34,997.40 V1003.40 M913.36,997.40 V1003.40 M917.59,997.40 V1003.40 M921.27,997.40 V1003.40 M924.50,997.40 V1003.40 M946.46,997.40 V1003.40 M957.60,997.40 V1003.40 M965.51,997.40 V1003.40 M971.64,997.40 V1003.40 M976.66,997.40 V1003.40 M980.89,997.40 V1003.40 M984.57,997.40 V1003.40 M987.80,997.40 V1003.40 M1009.76,997.40 V1003.40 M1020.90,997.40 V1003.40 M1028.81,997.40 V1003.40 M1034.94,997.40 V1003.40 M1039.96,997.40 V1003.40 M1044.19,997.40 V1003.40 M1047.87,997.40 V1003.40 M1051.10,997.40 V1003.40" stroke="#000" stroke-width="2.1"/>
<text x="659.40" y="1005.60" font-size="23" text-anchor="end">10</text>
<text x="659.40" y="954.98" font-size="23" text-anchor="end">15</text>
<text x="659.40" y="904.36" font-size="23" text-anchor="end">20</text>
<text x="659.40" y="853.74" font-size="23" text-anchor="end">25</text>
<text x="659.40" y="803.12" font-size="23" text-anchor="end">30</text>
<text x="659.40" y="752.50" font-size="23" text-anchor="end">35</text>
<text x="674.20" y="1034.90" font-size="25" text-anchor="middle">2</text>
<text x="737.50" y="1034.90" font-size="25" text-anchor="middle">3</text>
<text x="800.80" y="1034.90" font-size="25" text-anchor="middle">4</text>
<text x="864.10" y="1034.90" font-size="25" text-anchor="middle">5</text>
<text x="927.40" y="1034.90" font-size="25" text-anchor="middle">6</text>
<text x="990.70" y="1034.90" font-size="25" text-anchor="middle">7</text>
<text x="1054.00" y="1034.90" font-size="25" text-anchor="middle">8</text>
<text x="595.40" y="877.00" font-size="25">Cq</text>
<text x="748.80" y="1068.20" font-size="20.5">Log<tspan font-size="15" dy="5">10</tspan><tspan dy="-5"> copies per reaction</tspan></text>
<text x="793.50" y="704.40" font-size="31" font-weight="bold">P with SP</text>
<text x="869.50" y="786.50" font-size="21" letter-spacing="-0.35">Y</text>
<text x="896.70" y="786.50" font-size="21" letter-spacing="-0.35">= -3.50X + 37.52</text>
<text x="868.80" y="823.80" font-size="21" letter-spacing="-0.35">R</text>
<text x="883.40" y="816.60" font-size="15.5">2</text>
<text x="897.10" y="823.80" font-size="21" letter-spacing="-0.35">= 0.9985</text>
<text x="869.20" y="860.90" font-size="21" letter-spacing="-0.35">E</text>
<text x="896.40" y="860.90" font-size="21" letter-spacing="-0.35">= 93.05%</text>
<line x1="688.70" y1="797.77" x2="990.70" y2="966.83" stroke="#333" stroke-width="1.8" stroke-dasharray="4.4 2.0"/>
<path d="M688.70,782.77 V807.07 M683.10,782.77 H694.30 M683.10,807.07 H694.30 M718.90,809.09 V823.27 M713.30,809.09 H724.50 M713.30,823.27 H724.50 M749.10,825.29 V839.47 M743.50,825.29 H754.70 M743.50,839.47 H754.70 M779.30,846.55 V858.70 M773.70,846.55 H784.90 M773.70,858.70 H784.90 M839.70,875.91 V884.01 M834.10,875.91 H845.30 M834.10,884.01 H845.30 M900.10,911.35 V925.52 M894.50,911.35 H905.70 M894.50,925.52 H905.70" stroke="#2b2b2b" stroke-width="1.6" fill="none"/>
<circle cx="688.70" cy="794.92" r="5.0" fill="#E24C3C" stroke="#D8432F" stroke-width="0.7"/>
<circle cx="718.90" cy="816.18" r="5.0" fill="#E24C3C" stroke="#D8432F" stroke-width="0.7"/>
<circle cx="749.10" cy="832.38" r="5.0" fill="#E24C3C" stroke="#D8432F" stroke-width="0.7"/>
<circle cx="779.30" cy="852.63" r="5.0" fill="#E24C3C" stroke="#D8432F" stroke-width="0.7"/>
<circle cx="809.50" cy="865.79" r="5.0" fill="#E24C3C" stroke="#D8432F" stroke-width="0.7"/>
<circle cx="839.70" cy="879.96" r="5.0" fill="#E24C3C" stroke="#D8432F" stroke-width="0.7"/>
<circle cx="869.90" cy="899.20" r="5.0" fill="#E24C3C" stroke="#D8432F" stroke-width="0.7"/>
<circle cx="900.10" cy="918.43" r="5.0" fill="#E24C3C" stroke="#D8432F" stroke-width="0.7"/>
<circle cx="930.30" cy="932.61" r="5.0" fill="#E24C3C" stroke="#D8432F" stroke-width="0.7"/>
<circle cx="960.50" cy="949.82" r="5.0" fill="#E24C3C" stroke="#D8432F" stroke-width="0.7"/>
<circle cx="990.70" cy="966.02" r="5.0" fill="#E24C3C" stroke="#D8432F" stroke-width="0.7"/>
<path d="M96.50,1189.40 L96.50,1443.10 L477.20,1443.10" fill="none" stroke="#000" stroke-width="2.6" stroke-linecap="square"/>
<path d="M86.20,1443.10 H96.50 M86.20,1379.67 H96.50 M86.20,1316.25 H96.50 M86.20,1252.83 H96.50 M86.20,1189.40 H96.50 M96.50,1443.10 V1453.60 M159.95,1443.10 V1453.60 M223.40,1443.10 V1453.60 M286.85,1443.10 V1453.60 M350.30,1443.10 V1453.60 M413.75,1443.10 V1453.60 M477.20,1443.10 V1453.60" stroke="#000" stroke-width="2.5"/>
<path d="M115.60,1443.10 V1449.10 M126.77,1443.10 V1449.10 M134.70,1443.10 V1449.10 M140.85,1443.10 V1449.10 M145.87,1443.10 V1449.10 M150.12,1443.10 V1449.10 M153.80,1443.10 V1449.10 M157.05,1443.10 V1449.10 M179.05,1443.10 V1449.10 M190.22,1443.10 V1449.10 M198.15,1443.10 V1449.10 M204.30,1443.10 V1449.10 M209.32,1443.10 V1449.10 M213.57,1443.10 V1449.10 M217.25,1443.10 V1449.10 M220.50,1443.10 V1449.10 M242.50,1443.10 V1449.10 M253.67,1443.10 V1449.10 M261.60,1443.10 V1449.10 M267.75,1443.10 V1449.10 M272.77,1443.10 V1449.10 M277.02,1443.10 V1449.10 M280.70,1443.10 V1449.10 M283.95,1443.10 V1449.10 M305.95,1443.10 V1449.10 M317.12,1443.10 V1449.10 M325.05,1443.10 V1449.10 M331.20,1443.10 V1449.10 M336.22,1443.10 V1449.10 M340.47,1443.10 V1449.10 M344.15,1443.10 V1449.10 M347.40,1443.10 V1449.10 M369.40,1443.10 V1449.10 M380.57,1443.10 V1449.10 M388.50,1443.10 V1449.10 M394.65,1443.10 V1449.10 M399.67,1443.10 V1449.10 M403.92,1443.10 V1449.10 M407.60,1443.10 V1449.10 M410.85,1443.10 V1449.10 M432.85,1443.10 V1449.10 M444.02,1443.10 V1449.10 M451.95,1443.10 V1449.10 M458.10,1443.10 V1449.10 M463.12,1443.10 V1449.10 M467.37,1443.10 V1449.10 M471.05,1443.10 V1449.10 M474.30,1443.10 V1449.10" stroke="#000" stroke-width="2.1"/>
<text x="81.70" y="1451.30" font-size="23" text-anchor="end">10</text>
<text x="81.70" y="1387.88" font-size="23" text-anchor="end">15</text>
<text x="81.70" y="1324.45" font-size="23" text-anchor="end">20</text>
<text x="81.70" y="1261.03" font-size="23" text-anchor="end">25</text>
<text x="81.70" y="1197.60" font-size="23" text-anchor="end">30</text>
<text x="96.50" y="1480.60" font-size="25" text-anchor="middle">2</text>
<text x="159.95" y="1480.60" font-size="25" text-anchor="middle">3</text>
<text x="223.40" y="1480.60" font-size="25" text-anchor="middle">4</text>
<text x="286.85" y="1480.60" font-size="25" text-anchor="middle">5</text>
<text x="350.30" y="1480.60" font-size="25" text-anchor="middle">6</text>
<text x="413.75" y="1480.60" font-size="25" text-anchor="middle">7</text>
<text x="477.20" y="1480.60" font-size="25" text-anchor="middle">8</text>
<text x="19.30" y="1322.90" font-size="25">Cq</text>
<text x="171.90" y="1511.80" font-size="20.5">Log<tspan font-size="15" dy="5">10</tspan><tspan dy="-5"> copies per reaction</tspan></text>
<text x="216.00" y="1149.00" font-size="31" font-weight="bold">F with UP</text>
<text x="296.80" y="1218.00" font-size="21" letter-spacing="-0.35">Y</text>
<text x="324.00" y="1218.00" font-size="21" letter-spacing="-0.35">= -3.28X + 35.89</text>
<text x="295.70" y="1253.80" font-size="21" letter-spacing="-0.35">R</text>
<text x="310.30" y="1246.60" font-size="15.5">2</text>
<text x="324.00" y="1253.80" font-size="21" letter-spacing="-0.35">= 0.9952</text>
<text x="295.70" y="1290.10" font-size="21" letter-spacing="-0.35">E</text>
<text x="322.90" y="1290.10" font-size="21" letter-spacing="-0.35">= 101.64%</text>
<line x1="111.03" y1="1207.43" x2="413.75" y2="1405.93" stroke="#333" stroke-width="1.8" stroke-dasharray="4.4 2.0"/>
<path d="M111.03,1196.12 V1229.10 M105.43,1196.12 H116.63 M105.43,1229.10 H116.63 M171.57,1221.62 V1256.12 M165.97,1221.62 H177.17 M165.97,1256.12 H177.17 M201.85,1257.01 V1274.77 M196.25,1257.01 H207.45 M196.25,1274.77 H207.45 M232.12,1276.93 V1294.69 M226.52,1276.93 H237.72 M226.52,1294.69 H237.72 M262.39,1299.51 V1334.26 M256.79,1299.51 H267.99 M256.79,1334.26 H267.99 M292.66,1319.04 V1339.34 M287.06,1319.04 H298.26 M287.06,1339.34 H298.26 M383.48,1378.41 V1388.55 M377.88,1378.41 H389.08 M377.88,1388.55 H389.08" stroke="#2b2b2b" stroke-width="1.6" fill="none"/>
<circle cx="111.03" cy="1212.61" r="5.0" fill="#36C0D4" stroke="#20B2C8" stroke-width="0.7"/>
<circle cx="141.30" cy="1226.57" r="5.0" fill="#36C0D4" stroke="#20B2C8" stroke-width="0.7"/>
<circle cx="171.57" cy="1238.87" r="5.0" fill="#36C0D4" stroke="#20B2C8" stroke-width="0.7"/>
<circle cx="201.85" cy="1265.89" r="5.0" fill="#36C0D4" stroke="#20B2C8" stroke-width="0.7"/>
<circle cx="232.12" cy="1285.81" r="5.0" fill="#36C0D4" stroke="#20B2C8" stroke-width="0.7"/>
<circle cx="262.39" cy="1316.88" r="5.0" fill="#36C0D4" stroke="#20B2C8" stroke-width="0.7"/>
<circle cx="292.66" cy="1329.19" r="5.0" fill="#36C0D4" stroke="#20B2C8" stroke-width="0.7"/>
<circle cx="322.93" cy="1345.43" r="5.0" fill="#36C0D4" stroke="#20B2C8" stroke-width="0.7"/>
<circle cx="353.21" cy="1366.99" r="5.0" fill="#36C0D4" stroke="#20B2C8" stroke-width="0.7"/>
<circle cx="383.48" cy="1383.48" r="5.0" fill="#36C0D4" stroke="#20B2C8" stroke-width="0.7"/>
<circle cx="413.75" cy="1405.81" r="5.0" fill="#36C0D4" stroke="#20B2C8" stroke-width="0.7"/>
<path d="M675.60,1191.50 L675.60,1444.40 L1055.80,1444.40" fill="none" stroke="#000" stroke-width="2.6" stroke-linecap="square"/>
<path d="M665.30,1444.40 H675.60 M665.30,1381.18 H675.60 M665.30,1317.95 H675.60 M665.30,1254.72 H675.60 M665.30,1191.50 H675.60 M675.60,1444.40 V1454.90 M738.97,1444.40 V1454.90 M802.33,1444.40 V1454.90 M865.70,1444.40 V1454.90 M929.07,1444.40 V1454.90 M992.43,1444.40 V1454.90 M1055.80,1444.40 V1454.90" stroke="#000" stroke-width="2.5"/>
<path d="M694.68,1444.40 V1450.40 M705.83,1444.40 V1450.40 M713.75,1444.40 V1450.40 M719.89,1444.40 V1450.40 M724.91,1444.40 V1450.40 M729.15,1444.40 V1450.40 M732.83,1444.40 V1450.40 M736.07,1444.40 V1450.40 M758.04,1444.40 V1450.40 M769.20,1444.40 V1450.40 M777.12,1444.40 V1450.40 M783.26,1444.40 V1450.40 M788.28,1444.40 V1450.40 M792.52,1444.40 V1450.40 M796.19,1444.40 V1450.40 M799.43,1444.40 V1450.40 M821.41,1444.40 V1450.40 M832.57,1444.40 V1450.40 M840.48,1444.40 V1450.40 M846.62,1444.40 V1450.40 M851.64,1444.40 V1450.40 M855.88,1444.40 V1450.40 M859.56,1444.40 V1450.40 M862.80,1444.40 V1450.40 M884.78,1444.40 V1450.40 M895.93,1444.40 V1450.40 M903.85,1444.40 V1450.40 M909.99,1444.40 V1450.40 M915.01,1444.40 V1450.40 M919.25,1444.40 V1450.40 M922.93,1444.40 V1450.40 M926.17,1444.40 V1450.40 M948.14,1444.40 V1450.40 M959.30,1444.40 V1450.40 M967.22,1444.40 V1450.40 M973.36,1444.40 V1450.40 M978.38,1444.40 V1450.40 M982.62,1444.40 V1450.40 M986.29,1444.40 V1450.40 M989.53,1444.40 V1450.40 M1011.51,1444.40 V1450.40 M1022.67,1444.40 V1450.40 M1030.58,1444.40 V1450.40 M1036.72,1444.40 V1450.40 M1041.74,1444.40 V1450.40 M1045.98,1444.40 V1450.40 M1049.66,1444.40 V1450.40 M1052.90,1444.40 V1450.40" stroke="#000" stroke-width="2.1"/>
<text x="660.80" y="1452.60" font-size="23" text-anchor="end">10</text>
<text x="660.80" y="1389.38" font-size="23" text-anchor="end">15</text>
<text x="660.80" y="1326.15" font-size="23" text-anchor="end">20</text>
<text x="660.80" y="1262.92" font-size="23" text-anchor="end">25</text>
<text x="660.80" y="1199.70" font-size="23" text-anchor="end">30</text>
<text x="675.60" y="1481.90" font-size="25" text-anchor="middle">2</text>
<text x="738.97" y="1481.90" font-size="25" text-anchor="middle">3</text>
<text x="802.33" y="1481.90" font-size="25" text-anchor="middle">4</text>
<text x="865.70" y="1481.90" font-size="25" text-anchor="middle">5</text>
<text x="929.07" y="1481.90" font-size="25" text-anchor="middle">6</text>
<text x="992.43" y="1481.90" font-size="25" text-anchor="middle">7</text>
<text x="1055.80" y="1481.90" font-size="25" text-anchor="middle">8</text>
<text x="596.10" y="1320.60" font-size="25">Cq</text>
<text x="750.00" y="1515.60" font-size="20.5">Log<tspan font-size="15" dy="5">10</tspan><tspan dy="-5"> copies per reaction</tspan></text>
<text x="795.50" y="1162.40" font-size="31" font-weight="bold">F with SP</text>
<text x="904.00" y="1224.20" font-size="21" letter-spacing="-0.35">Y</text>
<text x="931.20" y="1224.20" font-size="21" letter-spacing="-0.35">= -3.27X + 35.06</text>
<text x="905.20" y="1260.90" font-size="21" letter-spacing="-0.35">R</text>
<text x="919.80" y="1253.70" font-size="15.5">2</text>
<text x="933.50" y="1260.90" font-size="21" letter-spacing="-0.35">= 0.9973</text>
<text x="906.80" y="1297.00" font-size="21" letter-spacing="-0.35">E</text>
<text x="934.00" y="1297.00" font-size="21" letter-spacing="-0.35">= 102.10%</text>
<line x1="690.11" y1="1219.68" x2="992.43" y2="1416.96" stroke="#333" stroke-width="1.8" stroke-dasharray="4.4 2.0"/>
<path d="M690.11,1193.40 V1242.71 M684.51,1193.40 H695.71 M684.51,1242.71 H695.71 M720.34,1223.11 V1271.16 M714.74,1223.11 H725.94 M714.74,1271.16 H725.94 M750.58,1244.61 V1274.96 M744.98,1244.61 H756.18 M744.98,1274.96 H756.18 M780.81,1263.83 V1283.56 M775.21,1263.83 H786.41 M775.21,1283.56 H786.41 M811.04,1287.60 V1307.83 M805.44,1287.60 H816.64 M805.44,1307.83 H816.64 M871.50,1328.07 V1348.30 M865.90,1328.07 H877.10 M865.90,1348.30 H877.10 M901.74,1347.03 V1367.27 M896.14,1347.03 H907.34 M896.14,1367.27 H907.34 M931.97,1373.59 V1386.23 M926.37,1373.59 H937.57 M926.37,1386.23 H937.57 M962.20,1392.56 V1410.26 M956.60,1392.56 H967.80 M956.60,1410.26 H967.80 M992.43,1403.94 V1429.23 M986.83,1403.94 H998.03 M986.83,1429.23 H998.03" stroke="#2b2b2b" stroke-width="1.6" fill="none"/>
<circle cx="690.11" cy="1218.05" r="5.0" fill="#36C0D4" stroke="#20B2C8" stroke-width="0.7"/>
<circle cx="720.34" cy="1247.14" r="5.0" fill="#36C0D4" stroke="#20B2C8" stroke-width="0.7"/>
<circle cx="750.58" cy="1259.78" r="5.0" fill="#36C0D4" stroke="#20B2C8" stroke-width="0.7"/>
<circle cx="780.81" cy="1273.69" r="5.0" fill="#36C0D4" stroke="#20B2C8" stroke-width="0.7"/>
<circle cx="811.04" cy="1297.72" r="5.0" fill="#36C0D4" stroke="#20B2C8" stroke-width="0.7"/>
<circle cx="841.27" cy="1317.95" r="5.0" fill="#36C0D4" stroke="#20B2C8" stroke-width="0.7"/>
<circle cx="871.50" cy="1338.18" r="5.0" fill="#36C0D4" stroke="#20B2C8" stroke-width="0.7"/>
<circle cx="901.74" cy="1357.15" r="5.0" fill="#36C0D4" stroke="#20B2C8" stroke-width="0.7"/>
<circle cx="931.97" cy="1379.91" r="5.0" fill="#36C0D4" stroke="#20B2C8" stroke-width="0.7"/>
<circle cx="962.20" cy="1401.41" r="5.0" fill="#36C0D4" stroke="#20B2C8" stroke-width="0.7"/>
<circle cx="992.43" cy="1416.58" r="5.0" fill="#36C0D4" stroke="#20B2C8" stroke-width="0.7"/>
<path d="M96.30,1610.50 L96.30,1861.00 L472.60,1861.00" fill="none" stroke="#000" stroke-width="2.6" stroke-linecap="square"/>
<path d="M86.00,1861.00 H96.30 M86.00,1810.90 H96.30 M86.00,1760.80 H96.30 M86.00,1710.70 H96.30 M86.00,1660.60 H96.30 M86.00,1610.50 H96.30 M96.30,1861.00 V1871.50 M159.02,1861.00 V1871.50 M221.73,1861.00 V1871.50 M284.45,1861.00 V1871.50 M347.17,1861.00 V1871.50 M409.88,1861.00 V1871.50 M472.60,1861.00 V1871.50" stroke="#000" stroke-width="2.5"/>
<path d="M115.18,1861.00 V1867.00 M126.22,1861.00 V1867.00 M134.06,1861.00 V1867.00 M140.14,1861.00 V1867.00 M145.10,1861.00 V1867.00 M149.30,1861.00 V1867.00 M152.94,1861.00 V1867.00 M156.15,1861.00 V1867.00 M177.90,1861.00 V1867.00 M188.94,1861.00 V1867.00 M196.78,1861.00 V1867.00 M202.85,1861.00 V1867.00 M207.82,1861.00 V1867.00 M212.02,1861.00 V1867.00 M215.66,1861.00 V1867.00 M218.86,1861.00 V1867.00 M240.61,1861.00 V1867.00 M251.66,1861.00 V1867.00 M259.49,1861.00 V1867.00 M265.57,1861.00 V1867.00 M270.54,1861.00 V1867.00 M274.74,1861.00 V1867.00 M278.37,1861.00 V1867.00 M281.58,1861.00 V1867.00 M303.33,1861.00 V1867.00 M314.37,1861.00 V1867.00 M322.21,1861.00 V1867.00 M328.29,1861.00 V1867.00 M333.25,1861.00 V1867.00 M337.45,1861.00 V1867.00 M341.09,1861.00 V1867.00 M344.30,1861.00 V1867.00 M366.05,1861.00 V1867.00 M377.09,1861.00 V1867.00 M384.93,1861.00 V1867.00 M391.00,1861.00 V1867.00 M395.97,1861.00 V1867.00 M400.17,1861.00 V1867.00 M403.81,1861.00 V1867.00 M407.01,1861.00 V1867.00 M428.76,1861.00 V1867.00 M439.81,1861.00 V1867.00 M447.64,1861.00 V1867.00 M453.72,1861.00 V1867.00 M458.69,1861.00 V1867.00 M462.89,1861.00 V1867.00 M466.52,1861.00 V1867.00 M469.73,1861.00 V1867.00" stroke="#000" stroke-width="2.1"/>
<text x="81.50" y="1869.20" font-size="23" text-anchor="end">10</text>
<text x="81.50" y="1819.10" font-size="23" text-anchor="end">15</text>
<text x="81.50" y="1769.00" font-size="23" text-anchor="end">20</text>
<text x="81.50" y="1718.90" font-size="23" text-anchor="end">25</text>
<text x="81.50" y="1668.80" font-size="23" text-anchor="end">30</text>
<text x="81.50" y="1618.70" font-size="23" text-anchor="end">35</text>
<text x="96.30" y="1898.50" font-size="25" text-anchor="middle">2</text>
<text x="159.02" y="1898.50" font-size="25" text-anchor="middle">3</text>
<text x="221.73" y="1898.50" font-size="25" text-anchor="middle">4</text>
<text x="284.45" y="1898.50" font-size="25" text-anchor="middle">5</text>
<text x="347.17" y="1898.50" font-size="25" text-anchor="middle">6</text>
<text x="409.88" y="1898.50" font-size="25" text-anchor="middle">7</text>
<text x="472.60" y="1898.50" font-size="25" text-anchor="middle">8</text>
<text x="20.00" y="1741.70" font-size="25">Cq</text>
<text x="170.50" y="1933.00" font-size="20.5">Log<tspan font-size="15" dy="5">10</tspan><tspan dy="-5"> copies per reaction</tspan></text>
<text x="214.50" y="1571.50" font-size="31" font-weight="bold">L with UP</text>
<text x="299.30" y="1641.10" font-size="21" letter-spacing="-0.35">Y</text>
<text x="326.50" y="1641.10" font-size="21" letter-spacing="-0.35">= -3.49X + 37.52</text>
<text x="300.00" y="1679.60" font-size="21" letter-spacing="-0.35">R</text>
<text x="314.60" y="1672.40" font-size="15.5">2</text>
<text x="328.30" y="1679.60" font-size="21" letter-spacing="-0.35">= 0.9968</text>
<text x="301.20" y="1715.90" font-size="21" letter-spacing="-0.35">E</text>
<text x="328.40" y="1715.90" font-size="21" letter-spacing="-0.35">= 93.51%</text>
<line x1="110.66" y1="1663.20" x2="409.88" y2="1830.04" stroke="#333" stroke-width="1.8" stroke-dasharray="4.4 2.0"/>
<path d="M110.66,1655.19 V1673.23 M105.06,1655.19 H116.26 M105.06,1673.23 H116.26 M140.58,1663.91 V1691.16 M134.98,1663.91 H146.18 M134.98,1691.16 H146.18 M170.51,1691.66 V1702.68 M164.91,1691.66 H176.11 M164.91,1702.68 H176.11 M200.43,1705.09 V1721.72 M194.83,1705.09 H206.03 M194.83,1721.72 H206.03 M230.35,1729.24 V1742.26 M224.75,1729.24 H235.95 M224.75,1742.26 H235.95 M260.27,1735.45 V1745.47 M254.67,1735.45 H265.87 M254.67,1745.47 H265.87 M290.19,1753.99 V1771.02 M284.59,1753.99 H295.79 M284.59,1771.02 H295.79 M320.12,1770.52 V1789.16 M314.52,1770.52 H325.72 M314.52,1789.16 H325.72 M350.04,1792.86 V1808.29 M344.44,1792.86 H355.64 M344.44,1808.29 H355.64 M379.96,1804.59 V1824.63 M374.36,1804.59 H385.56 M374.36,1824.63 H385.56 M409.88,1813.40 V1841.06 M404.28,1813.40 H415.48 M404.28,1841.06 H415.48" stroke="#2b2b2b" stroke-width="1.6" fill="none"/>
<circle cx="110.66" cy="1664.21" r="5.0" fill="#15607A" stroke="#0F566E" stroke-width="0.7"/>
<circle cx="140.58" cy="1677.53" r="5.0" fill="#15607A" stroke="#0F566E" stroke-width="0.7"/>
<circle cx="170.51" cy="1697.17" r="5.0" fill="#15607A" stroke="#0F566E" stroke-width="0.7"/>
<circle cx="200.43" cy="1713.41" r="5.0" fill="#15607A" stroke="#0F566E" stroke-width="0.7"/>
<circle cx="230.35" cy="1735.75" r="5.0" fill="#15607A" stroke="#0F566E" stroke-width="0.7"/>
<circle cx="260.27" cy="1740.46" r="5.0" fill="#15607A" stroke="#0F566E" stroke-width="0.7"/>
<circle cx="290.19" cy="1762.50" r="5.0" fill="#15607A" stroke="#0F566E" stroke-width="0.7"/>
<circle cx="320.12" cy="1779.84" r="5.0" fill="#15607A" stroke="#0F566E" stroke-width="0.7"/>
<circle cx="350.04" cy="1800.58" r="5.0" fill="#15607A" stroke="#0F566E" stroke-width="0.7"/>
<circle cx="379.96" cy="1814.61" r="5.0" fill="#15607A" stroke="#0F566E" stroke-width="0.7"/>
<circle cx="409.88" cy="1827.23" r="5.0" fill="#15607A" stroke="#0F566E" stroke-width="0.7"/>
<path d="M674.70,1608.50 L674.70,1861.70 L1054.70,1861.70" fill="none" stroke="#000" stroke-width="2.6" stroke-linecap="square"/>
<path d="M664.40,1861.70 H674.70 M664.40,1798.40 H674.70 M664.40,1735.10 H674.70 M664.40,1671.80 H674.70 M664.40,1608.50 H674.70 M674.70,1861.70 V1872.20 M738.03,1861.70 V1872.20 M801.37,1861.70 V1872.20 M864.70,1861.70 V1872.20 M928.03,1861.70 V1872.20 M991.37,1861.70 V1872.20 M1054.70,1861.70 V1872.20" stroke="#000" stroke-width="2.5"/>
<path d="M693.77,1861.70 V1867.70 M704.92,1861.70 V1867.70 M712.83,1861.70 V1867.70 M718.97,1861.70 V1867.70 M723.98,1861.70 V1867.70 M728.22,1861.70 V1867.70 M731.90,1861.70 V1867.70 M735.14,1861.70 V1867.70 M757.10,1861.70 V1867.70 M768.25,1861.70 V1867.70 M776.16,1861.70 V1867.70 M782.30,1861.70 V1867.70 M787.32,1861.70 V1867.70 M791.56,1861.70 V1867.70 M795.23,1861.70 V1867.70 M798.47,1861.70 V1867.70 M820.43,1861.70 V1867.70 M831.58,1861.70 V1867.70 M839.50,1861.70 V1867.70 M845.63,1861.70 V1867.70 M850.65,1861.70 V1867.70 M854.89,1861.70 V1867.70 M858.56,1861.70 V1867.70 M861.80,1861.70 V1867.70 M883.77,1861.70 V1867.70 M894.92,1861.70 V1867.70 M902.83,1861.70 V1867.70 M908.97,1861.70 V1867.70 M913.98,1861.70 V1867.70 M918.22,1861.70 V1867.70 M921.90,1861.70 V1867.70 M925.14,1861.70 V1867.70 M947.10,1861.70 V1867.70 M958.25,1861.70 V1867.70 M966.16,1861.70 V1867.70 M972.30,1861.70 V1867.70 M977.32,1861.70 V1867.70 M981.56,1861.70 V1867.70 M985.23,1861.70 V1867.70 M988.47,1861.70 V1867.70 M1010.43,1861.70 V1867.70 M1021.58,1861.70 V1867.70 M1029.50,1861.70 V1867.70 M1035.63,1861.70 V1867.70 M1040.65,1861.70 V1867.70 M1044.89,1861.70 V1867.70 M1048.56,1861.70 V1867.70 M1051.80,1861.70 V1867.70" stroke="#000" stroke-width="2.1"/>
<text x="659.90" y="1869.90" font-size="23" text-anchor="end">10</text>
<text x="659.90" y="1806.60" font-size="23" text-anchor="end">15</text>
<text x="659.90" y="1743.30" font-size="23" text-anchor="end">20</text>
<text x="659.90" y="1680.00" font-size="23" text-anchor="end">25</text>
<text x="659.90" y="1616.70" font-size="23" text-anchor="end">30</text>
<text x="674.70" y="1899.20" font-size="25" text-anchor="middle">2</text>
<text x="738.03" y="1899.20" font-size="25" text-anchor="middle">3</text>
<text x="801.37" y="1899.20" font-size="25" text-anchor="middle">4</text>
<text x="864.70" y="1899.20" font-size="25" text-anchor="middle">5</text>
<text x="928.03" y="1899.20" font-size="25" text-anchor="middle">6</text>
<text x="991.37" y="1899.20" font-size="25" text-anchor="middle">7</text>
<text x="1054.70" y="1899.20" font-size="25" text-anchor="middle">8</text>
<text x="596.10" y="1741.50" font-size="25">Cq</text>
<text x="748.80" y="1933.00" font-size="20.5">Log<tspan font-size="15" dy="5">10</tspan><tspan dy="-5"> copies per reaction</tspan></text>
<text x="794.50" y="1568.50" font-size="31" font-weight="bold">L with SP</text>
<text x="848.00" y="1639.60" font-size="21" letter-spacing="-0.35">Y</text>
<text x="875.20" y="1639.60" font-size="21" letter-spacing="-0.35">= -3.15X + 35.85</text>
<text x="850.00" y="1677.30" font-size="21" letter-spacing="-0.35">R</text>
<text x="864.60" y="1670.10" font-size="15.5">2</text>
<text x="878.30" y="1677.30" font-size="21" letter-spacing="-0.35">= 0.9957</text>
<text x="852.50" y="1714.00" font-size="21" letter-spacing="-0.35">E</text>
<text x="879.70" y="1714.00" font-size="21" letter-spacing="-0.35">= 93.57%</text>
<line x1="688.82" y1="1632.93" x2="990.10" y2="1840.05" stroke="#333" stroke-width="1.8" stroke-dasharray="4.4 2.0"/>
<path d="M689.20,1617.74 V1648.13 M683.60,1617.74 H694.80 M683.60,1648.13 H694.80 M719.42,1646.48 V1662.18 M713.82,1646.48 H725.02 M713.82,1662.18 H725.02 M749.64,1668.00 V1680.66 M744.04,1668.00 H755.24 M744.04,1680.66 H755.24 M779.85,1678.38 V1707.25 M774.25,1678.38 H785.45 M774.25,1707.25 H785.45 M810.07,1701.80 V1716.49 M804.47,1701.80 H815.67 M804.47,1716.49 H815.67 M840.29,1728.90 V1756.50 M834.69,1728.90 H845.89 M834.69,1756.50 H845.89 M900.72,1781.94 V1792.07 M895.12,1781.94 H906.32 M895.12,1792.07 H906.32 M961.15,1809.54 V1823.21 M955.55,1809.54 H966.75 M955.55,1823.21 H966.75" stroke="#2b2b2b" stroke-width="1.6" fill="none"/>
<circle cx="689.20" cy="1632.93" r="5.0" fill="#15607A" stroke="#0F566E" stroke-width="0.7"/>
<circle cx="719.42" cy="1654.33" r="5.0" fill="#15607A" stroke="#0F566E" stroke-width="0.7"/>
<circle cx="749.64" cy="1674.33" r="5.0" fill="#15607A" stroke="#0F566E" stroke-width="0.7"/>
<circle cx="779.85" cy="1692.82" r="5.0" fill="#15607A" stroke="#0F566E" stroke-width="0.7"/>
<circle cx="810.07" cy="1709.15" r="5.0" fill="#15607A" stroke="#0F566E" stroke-width="0.7"/>
<circle cx="840.29" cy="1742.70" r="5.0" fill="#15607A" stroke="#0F566E" stroke-width="0.7"/>
<circle cx="870.50" cy="1764.72" r="5.0" fill="#15607A" stroke="#0F566E" stroke-width="0.7"/>
<circle cx="900.72" cy="1787.01" r="5.0" fill="#15607A" stroke="#0F566E" stroke-width="0.7"/>
<circle cx="930.93" cy="1803.34" r="5.0" fill="#15607A" stroke="#0F566E" stroke-width="0.7"/>
<circle cx="961.15" cy="1816.38" r="5.0" fill="#15607A" stroke="#0F566E" stroke-width="0.7"/>
<circle cx="991.37" cy="1840.94" r="5.0" fill="#15607A" stroke="#0F566E" stroke-width="0.7"/>
</svg></body></html>
